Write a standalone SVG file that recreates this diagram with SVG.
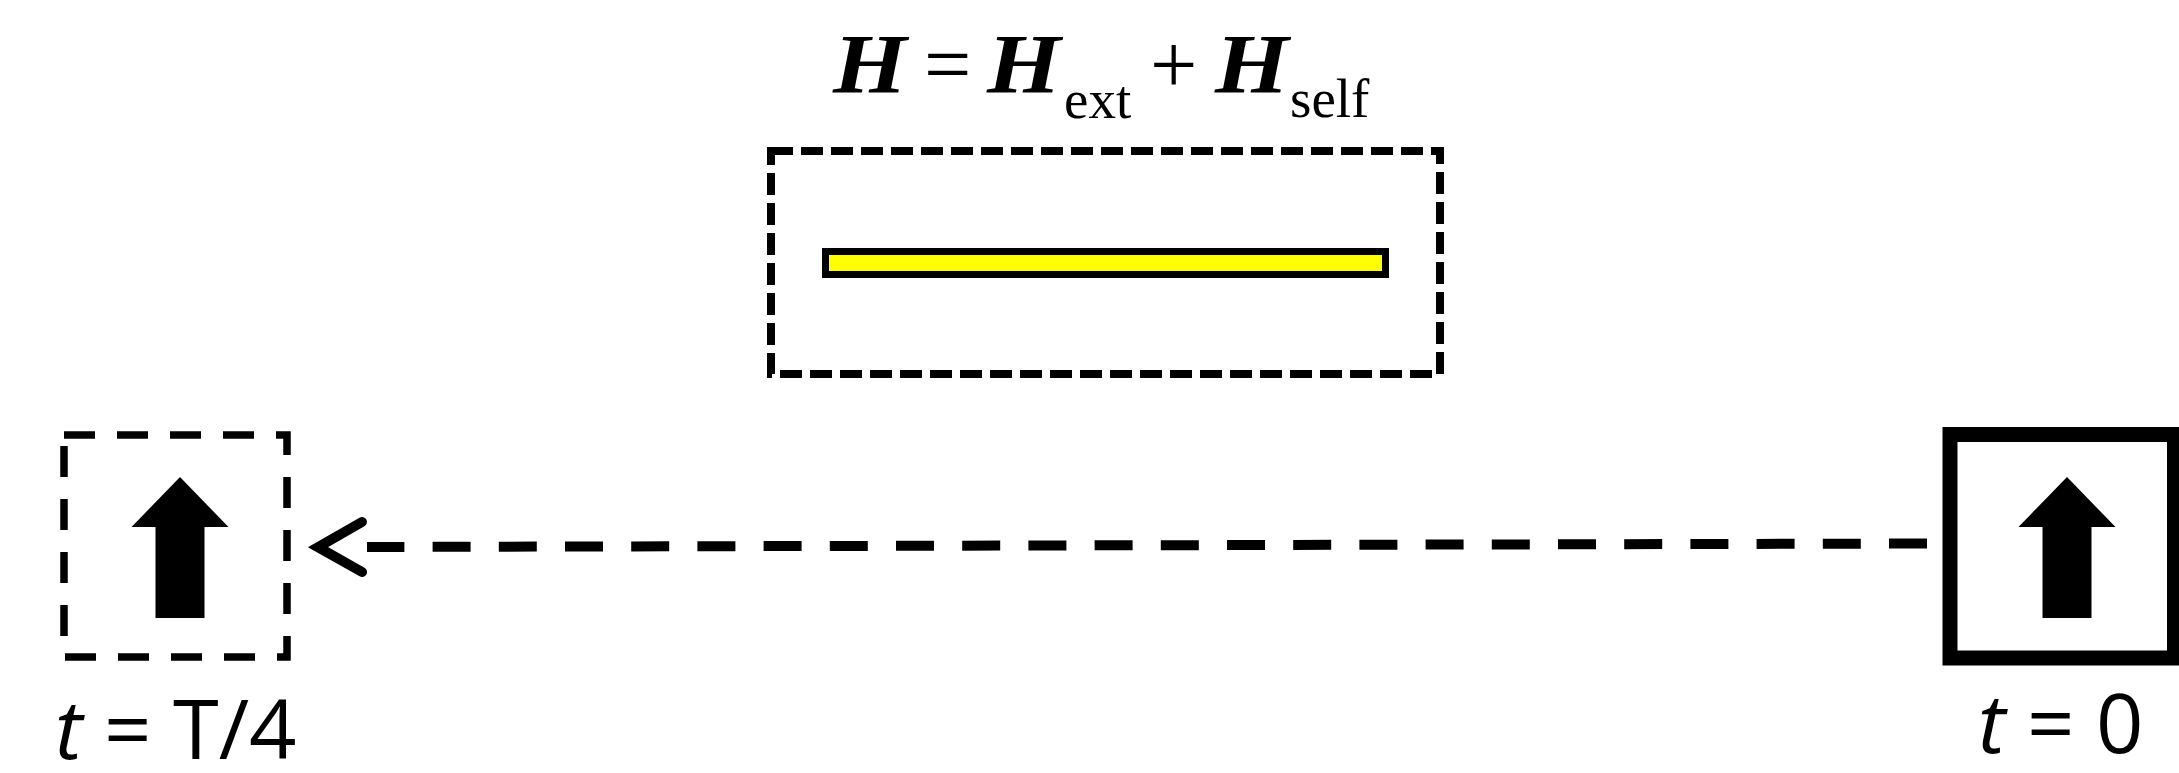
<svg xmlns="http://www.w3.org/2000/svg" width="2179" height="773" viewBox="0 0 2179 773">
  <style>
    .math { font-family: "Liberation Serif", "Times New Roman", serif; fill: #000; }
    .bigH { font-size: 84px; font-weight: bold; font-style: italic; }
    .op { font-size: 84px; }
    .sub { font-size: 55px; }
    .label { font-family: "Open Sans", "Liberation Sans", sans-serif; font-size: 83px; fill: #000; }
    .dashbox { fill: none; stroke: #000; }
    .blockarrow { fill: #000; }
  </style>
  <defs>
    <path id="uparrow" d="M0,0 L48.5,50 L24.5,50 L24.5,141 L-24.5,141 L-24.5,50 L-48.5,50 Z"/>
    <marker id="chevron" markerUnits="userSpaceOnUse" markerWidth="90" markerHeight="90" viewBox="-15 -45 90 90" refX="0" refY="0" orient="auto" overflow="visible">
      <path d="M5,-25 L49,0 L5,25" fill="none" stroke="#000" stroke-width="10" stroke-linecap="round" stroke-linejoin="miter" stroke-dasharray="none"/>
    </marker>
  </defs>
  <rect width="2179" height="773" fill="#fff"/>

  <g id="title">
    <text class="math bigH" transform="translate(833,93) scale(1.13,1)">H</text>
    <text class="math op" x="924" y="93">=</text>
    <text class="math bigH" transform="translate(987,93) scale(1.13,1)">H</text>
    <text class="math sub" x="1064" y="118">ext</text>
    <text class="math op" x="1150" y="93">+</text>
    <text class="math bigH" transform="translate(1215,93) scale(1.13,1)">H</text>
    <text class="math sub" x="1290" y="117">self</text>
  </g>

  <g id="conductor">
    <rect class="dashbox" x="771" y="151" width="669" height="223" stroke-width="8" stroke-dasharray="22 8"/>
    <rect x="825.5" y="251.5" width="560" height="23" fill="#ffff00" stroke="#000" stroke-width="7"/>
  </g>

  <g id="state-t0">
    <rect x="1950" y="434.5" width="224.5" height="223.5" fill="none" stroke="#000" stroke-width="15"/>
    <use href="#uparrow" x="2067" y="477" class="blockarrow"/>
    <text class="label" x="1978" y="753"><tspan font-style="italic">t</tspan> = 0</text>
  </g>

  <g id="state-tT4">
    <rect class="dashbox" x="64" y="435" width="223" height="222" stroke-width="7.5" stroke-dasharray="31 22"/>
    <use href="#uparrow" x="180" y="477" class="blockarrow"/>
    <text class="label" x="55" y="759"><tspan font-style="italic">t</tspan> = T/4</text>
  </g>

  <g id="connectors">
    <path d="M1927,543.5 L367,547" fill="none" stroke="#000" stroke-width="10" stroke-dasharray="38 28.2" marker-end="url(#chevron)"/>
  </g>
</svg>
